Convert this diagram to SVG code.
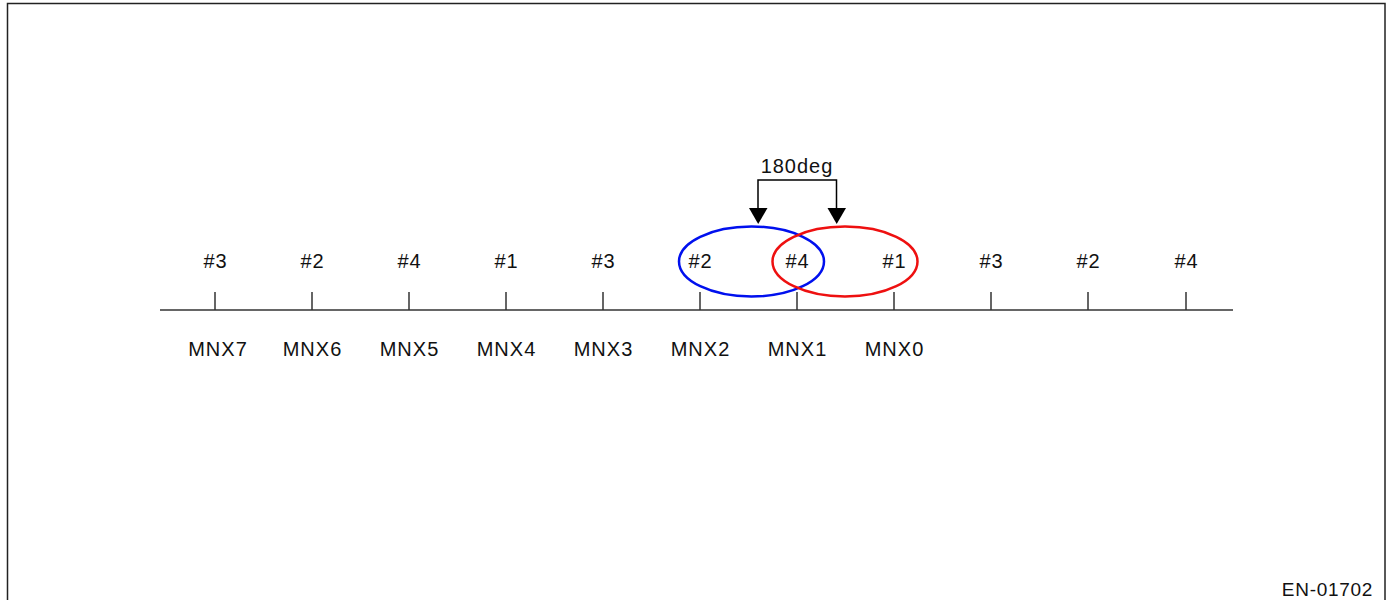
<svg xmlns="http://www.w3.org/2000/svg" width="1390" height="600" viewBox="0 0 1390 600">
<defs>
<style>
.t{font-family:"Liberation Sans",Arial,sans-serif;font-size:20px;letter-spacing:1px;fill:#111;text-anchor:middle}
.tick{stroke:#333;stroke-width:1.5;fill:none}
.ln{stroke:#000;stroke-width:1.5;fill:none}
</style>
<marker id="ah" viewBox="0 0 19 16" refX="9.5" refY="16" markerWidth="19" markerHeight="16" markerUnits="userSpaceOnUse" orient="auto-start-reverse">
<path d="M0,0 L19,0 L9.5,16 Z" fill="#000"/>
</marker>
</defs>
<rect width="1390" height="600" fill="#fff"/>
<rect id="frame" x="7.5" y="3.5" width="1377.5" height="620" fill="none" stroke="#222" stroke-width="1.5"/>
<g id="axis">
<line class="tick" x1="160" y1="310" x2="1233" y2="310"/>
<line class="tick" x1="215" y1="292" x2="215" y2="310"/>
<line class="tick" x1="312" y1="292" x2="312" y2="310"/>
<line class="tick" x1="409" y1="292" x2="409" y2="310"/>
<line class="tick" x1="506" y1="292" x2="506" y2="310"/>
<line class="tick" x1="603" y1="292" x2="603" y2="310"/>
<line class="tick" x1="700" y1="292" x2="700" y2="310"/>
<line class="tick" x1="797" y1="292" x2="797" y2="310"/>
<line class="tick" x1="894" y1="292" x2="894" y2="310"/>
<line class="tick" x1="991" y1="292" x2="991" y2="310"/>
<line class="tick" x1="1088" y1="292" x2="1088" y2="310"/>
<line class="tick" x1="1186" y1="292" x2="1186" y2="310"/>
</g>
<g id="cyl-labels">
<text class="t" x="215.5" y="268">#3</text>
<text class="t" x="312.5" y="268">#2</text>
<text class="t" x="409.5" y="268">#4</text>
<text class="t" x="506.5" y="268">#1</text>
<text class="t" x="603.5" y="268">#3</text>
<text class="t" x="700.5" y="268">#2</text>
<text class="t" x="797.5" y="268">#4</text>
<text class="t" x="894.5" y="268">#1</text>
<text class="t" x="991.5" y="268">#3</text>
<text class="t" x="1088.5" y="268">#2</text>
<text class="t" x="1186.5" y="268">#4</text>
</g>
<g id="mnx-labels">
<text class="t" x="218" y="356">MNX7</text>
<text class="t" x="312.5" y="356">MNX6</text>
<text class="t" x="409.5" y="356">MNX5</text>
<text class="t" x="506.5" y="356">MNX4</text>
<text class="t" x="603.5" y="356">MNX3</text>
<text class="t" x="700.5" y="356">MNX2</text>
<text class="t" x="797.5" y="356">MNX1</text>
<text class="t" x="894.5" y="356">MNX0</text>
</g>
<g id="ellipse-blue"><ellipse cx="751.5" cy="261.5" rx="72.5" ry="35" fill="none" stroke="#0010ee" stroke-width="2.5"/></g>
<g id="ellipse-red"><ellipse cx="845" cy="261.5" rx="72.5" ry="35" fill="none" stroke="#ee1010" stroke-width="2.5"/></g>
<g id="connectors">
<path class="ln" d="M758,208 V180 H836.5 V208"/>
<path d="M749,208 L767.5,208 L758.2,224 Z" fill="#000"/>
<path d="M827.5,208 L846,208 L836.7,224 Z" fill="#000"/>
</g>
<g id="label-180"><text class="t" x="797" y="172.5">180deg</text></g>
<g id="code"><text class="t" x="1373" y="596" style="text-anchor:end;font-size:19px;letter-spacing:0.7px">EN-01702</text></g>
</svg>
